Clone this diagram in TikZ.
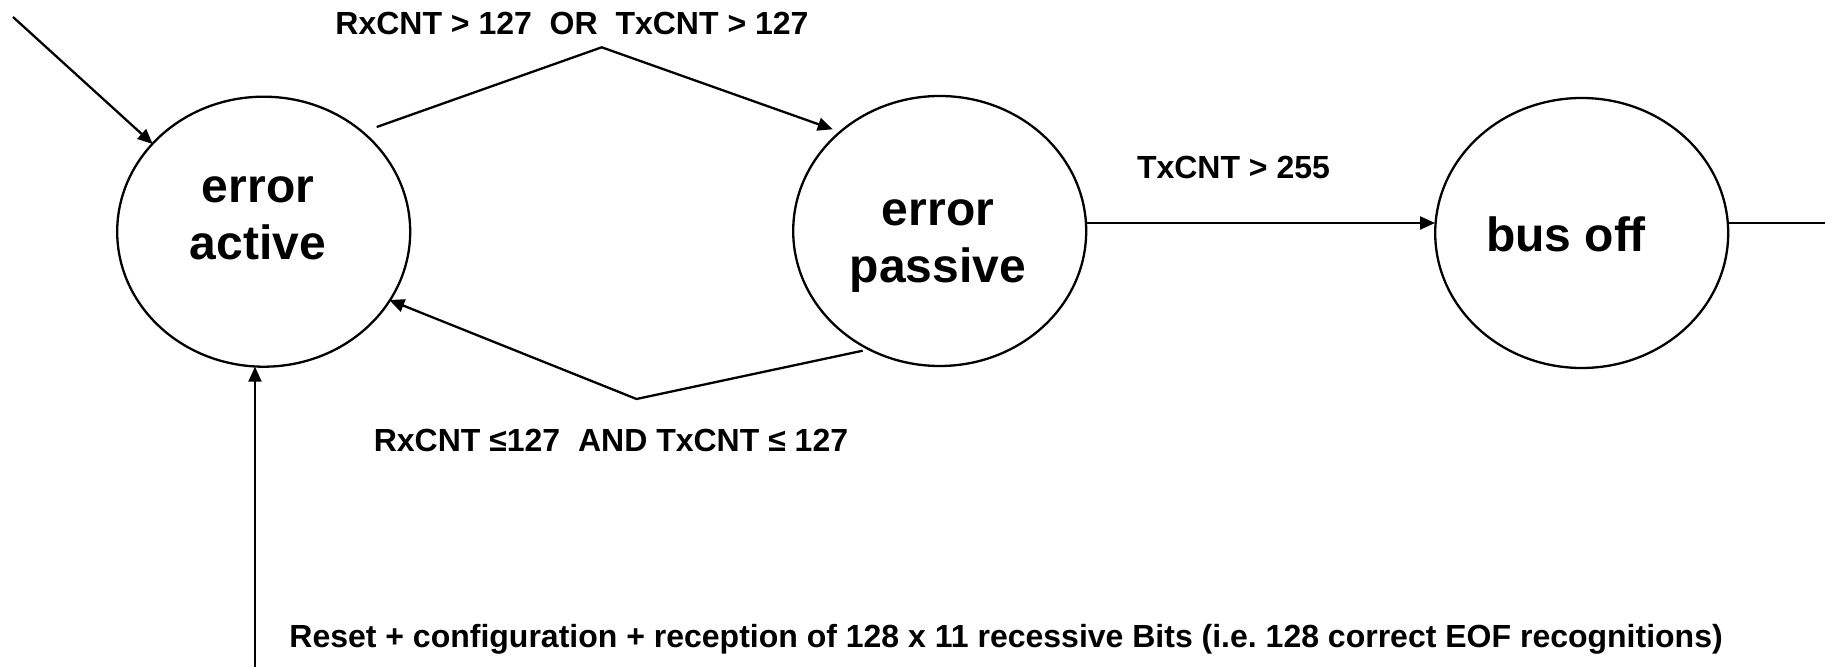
\documentclass[tikz,border=0pt]{standalone}
\usepackage{fontspec}
\setmainfont{Liberation Sans}
\usetikzlibrary{arrows.meta,calc,shapes.geometric}
\frenchspacing
\begin{document}
\begin{tikzpicture}[x=0.5pt,y=-0.5pt,
  state/.style={draw,line width=1.15pt,ellipse,minimum width=146.5pt,minimum height=135pt,inner sep=0pt,outer sep=0pt},
  statetext/.style={font=\bfseries\fontsize{24}{28.5}\selectfont,align=center,inner sep=0pt},
  cond/.style={font=\bfseries\fontsize{16}{19}\selectfont,inner sep=0pt,anchor=base},
  link/.style={line width=1.15pt},
  arr/.style={link,-{Triangle[length=7.5pt,width=6.5pt]}}
]
\useasboundingbox (0,0) rectangle (1825,667);

% states of the error confinement
\node[state] (active)  at (263.7,231.7) {};
\node[state] (passive) at (939.7,231)   {};
\node[state] (busoff)  at (1581.7,233)  {};

% the base anchor of a two-line node sits on its last line
\node[statetext,anchor=base] (activetxt)  at (258,260) {error\\active};
\node[statetext,anchor=base] (passivetxt) at (938,283) {error\\passive};
\node[statetext,anchor=base] (busofftxt)  at (1566,251.7) {bus off};

% entry arrow
\coordinate (initfoot) at (13,17);
\draw[arr] (initfoot) -- ($(active.center)+(-111,-87.7)$);

% active -> passive
\coordinate (overapex) at (601.7,47.3);
\draw[arr] ($(active.center)+(113,-104.7)$) -- (overapex) -- ($(passive.center)+(-107,-101.7)$);
\node[cond] (overlbl) at (572,35) {RxCNT > 127\ \ OR\ \ TxCNT > 127};

% passive -> active
\coordinate (underapex) at (636.5,399);
\draw[arr] ($(passive.center)+(-77,119.7)$) -- (underapex) -- ($(active.center)+(125.6,68.3)$);
\node[cond] (underlbl) at (611,452) {RxCNT ≤127\ \ AND TxCNT ≤ 127};

% passive -> bus off
\draw[arr] ($(passive.center)+(146.3,-8)$) -- ($(busoff.center)+(-146.7,-10)$);
\node[cond] (txlbl) at (1233.5,179) {TxCNT > 255};

% leaving bus off
\coordinate (exitend) at (1825,223);
\draw[link] ($(busoff.center)+(146.7,-10)$) -- (exitend);

% recovery to error active
\coordinate (resetfoot) at (255,667);
\draw[arr] (resetfoot) -- (resetfoot |- active.south);
\node[font=\bfseries\fontsize{16}{19}\selectfont,anchor=base west,inner sep=0pt] (resetlbl) at (289,647)
  {Reset + configuration + reception of 128 x 11 recessive Bits (i.e. 128 correct EOF recognitions)};
\end{tikzpicture}
\end{document}
